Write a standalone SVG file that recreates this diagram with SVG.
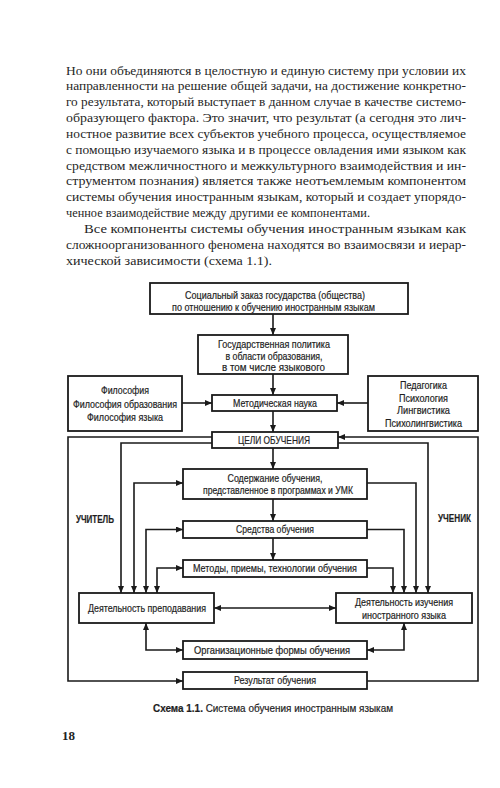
<svg xmlns="http://www.w3.org/2000/svg" width="500" height="788" viewBox="0 0 500 788">
<style>
.page{font-family:"Liberation Serif","DejaVu Serif",serif;font-size:13px;fill:#262626}
.d{font-family:"Liberation Sans","Arial",sans-serif;font-size:10.5px;fill:#1e1e1e;stroke:#1e1e1e;stroke-width:0.2;text-anchor:middle}
.b{font-weight:bold}
.box{fill:#fff;stroke:#1a1a1a;stroke-width:1.8}
.ln{fill:none;stroke:#1a1a1a;stroke-width:1.6}
</style>
<defs>
<marker id="ah" markerUnits="userSpaceOnUse" markerWidth="8" markerHeight="6" refX="7" refY="3" orient="auto-start-reverse">
<path d="M0,0 L7,3 L0,6 z" fill="#1a1a1a"/>
</marker>
</defs>
<rect width="500" height="788" fill="#fff"/>
<g id="body-text" class="page">
<text x="66" y="74.5" textLength="400" lengthAdjust="spacingAndGlyphs">Но они объединяются в целостную и единую систему при условии их</text>
<text x="66" y="90.3" textLength="400" lengthAdjust="spacingAndGlyphs">направленности на решение общей задачи, на достижение конкретно-</text>
<text x="66" y="106.2" textLength="400" lengthAdjust="spacingAndGlyphs">го результата, который выступает в данном случае в качестве системо-</text>
<text x="66" y="122" textLength="400" lengthAdjust="spacingAndGlyphs">образующего фактора. Это значит, что результат (а сегодня это лич-</text>
<text x="66" y="137.8" textLength="400" lengthAdjust="spacingAndGlyphs">ностное развитие всех субъектов учебного процесса, осуществляемое</text>
<text x="66" y="153.7" textLength="400" lengthAdjust="spacingAndGlyphs">с помощью изучаемого языка и в процессе овладения ими языком как</text>
<text x="66" y="169.5" textLength="400" lengthAdjust="spacingAndGlyphs">средством межличностного и межкультурного взаимодействия и ин-</text>
<text x="66" y="185.3" textLength="400" lengthAdjust="spacingAndGlyphs">струментом познания) является также неотъемлемым компонентом</text>
<text x="66" y="201.1" textLength="400" lengthAdjust="spacingAndGlyphs">системы обучения иностранным языкам, который и создает упорядо-</text>
<text x="66" y="217" textLength="304" lengthAdjust="spacingAndGlyphs">ченное взаимодействие между другими ее компонентами.</text>
<text x="84" y="232.8" textLength="382" lengthAdjust="spacingAndGlyphs">Все компоненты системы обучения иностранным языкам как</text>
<text x="66" y="248.6" textLength="400" lengthAdjust="spacingAndGlyphs">сложноорганизованного феномена находятся во взаимосвязи и иерар-</text>
<text x="66" y="264.5" textLength="206" lengthAdjust="spacingAndGlyphs">хической зависимости (схема 1.1).</text>
</g>
<g id="connectors" class="ln">
<path d="M273,314 V335" marker-end="url(#ah)"/>
<path d="M273,374 V395" marker-end="url(#ah)"/>
<path d="M182,403 H212" marker-end="url(#ah)"/>
<path d="M368,403 H337" marker-end="url(#ah)"/>
<path d="M273,411 V432" marker-end="url(#ah)"/>
<path d="M273,448 V469" marker-end="url(#ah)"/>
<path d="M273,499 V521" marker-end="url(#ah)"/>
<path d="M273,538 V560" marker-end="url(#ah)"/>
<path d="M212,437 H68 V681 H183" marker-end="url(#ah)"/>
<path d="M367,681 H478 V437 H338" marker-end="url(#ah)"/>
<path d="M212,443 H121 V593" marker-end="url(#ah)"/>
<path d="M338,443 H428 V593" marker-end="url(#ah)"/>
<path d="M134,593 V483 H183" marker-start="url(#ah)" marker-end="url(#ah)"/>
<path d="M367,483 H416 V593" marker-end="url(#ah)"/>
<path d="M146,593 V529.5 H183" marker-start="url(#ah)" marker-end="url(#ah)"/>
<path d="M367,529.5 H404 V593" marker-end="url(#ah)"/>
<path d="M157,593 V568 H183" marker-start="url(#ah)" marker-end="url(#ah)"/>
<path d="M367,568 H393 V593" marker-end="url(#ah)"/>
<path d="M214,608 H336" marker-start="url(#ah)" marker-end="url(#ah)"/>
<path d="M146,623 V650 H183" marker-start="url(#ah)" marker-end="url(#ah)"/>
<path d="M404,623 V650 H367" marker-start="url(#ah)" marker-end="url(#ah)"/>
</g>
<g id="social-order">
<rect class="box" x="150" y="283" width="258" height="31"/>
<text class="d" x="275" y="299" textLength="180" lengthAdjust="spacingAndGlyphs">Социальный заказ государства (общества)</text>
<text class="d" x="273.5" y="310.5" textLength="203" lengthAdjust="spacingAndGlyphs">по отношению к обучению иностранным языкам</text>
</g>
<g id="state-policy">
<rect class="box" x="198" y="335" width="150" height="39"/>
<text class="d" x="274" y="347.5" textLength="112" lengthAdjust="spacingAndGlyphs">Государственная политика</text>
<text class="d" x="274" y="359.5" textLength="97" lengthAdjust="spacingAndGlyphs">в области образования,</text>
<text class="d" x="273.5" y="371" textLength="103" lengthAdjust="spacingAndGlyphs">в том числе языкового</text>
</g>
<g id="philosophy">
<rect class="box" x="68" y="376" width="114" height="55"/>
<text class="d" x="125" y="394" textLength="48" lengthAdjust="spacingAndGlyphs">Философия</text>
<text class="d" x="125" y="407.5" textLength="104" lengthAdjust="spacingAndGlyphs">Философия образования</text>
<text class="d" x="125" y="420.5" textLength="76" lengthAdjust="spacingAndGlyphs">Философия языка</text>
</g>
<g id="sciences">
<rect class="box" x="368" y="376" width="110" height="55"/>
<text class="d" x="423.5" y="389" textLength="47" lengthAdjust="spacingAndGlyphs">Педагогика</text>
<text class="d" x="423.5" y="401.5" textLength="49" lengthAdjust="spacingAndGlyphs">Психология</text>
<text class="d" x="423.5" y="414" textLength="53" lengthAdjust="spacingAndGlyphs">Лингвистика</text>
<text class="d" x="423.5" y="426.5" textLength="77" lengthAdjust="spacingAndGlyphs">Психолингвистика</text>
</g>
<g id="methodology">
<rect class="box" x="212" y="395" width="125" height="16"/>
<text class="d" x="275" y="406.5" textLength="84" lengthAdjust="spacingAndGlyphs">Методическая наука</text>
</g>
<g id="goals">
<rect class="box" x="212" y="432" width="126" height="16"/>
<text class="d" x="274" y="443.5" textLength="72" lengthAdjust="spacingAndGlyphs">ЦЕЛИ ОБУЧЕНИЯ</text>
</g>
<g id="content">
<rect class="box" x="183" y="469" width="184" height="30"/>
<text class="d" x="275" y="481.5" textLength="95" lengthAdjust="spacingAndGlyphs">Содержание обучения,</text>
<text class="d" x="278" y="494" textLength="150" lengthAdjust="spacingAndGlyphs">представленное в программах и УМК</text>
</g>
<g id="means">
<rect class="box" x="183" y="521" width="184" height="17"/>
<text class="d" x="275" y="533" textLength="78" lengthAdjust="spacingAndGlyphs">Средства обучения</text>
</g>
<g id="methods">
<rect class="box" x="183" y="560" width="184" height="17"/>
<text class="d" x="275" y="572" textLength="164" lengthAdjust="spacingAndGlyphs">Методы, приемы, технологии обучения</text>
</g>
<g id="teaching">
<rect class="box" x="79" y="593" width="135" height="30"/>
<text class="d" x="147" y="611.5" textLength="118" lengthAdjust="spacingAndGlyphs">Деятельность преподавания</text>
</g>
<g id="learning">
<rect class="box" x="336" y="593" width="136" height="30"/>
<text class="d" x="404" y="606" textLength="98" lengthAdjust="spacingAndGlyphs">Деятельность изучения</text>
<text class="d" x="404" y="618.5" textLength="84" lengthAdjust="spacingAndGlyphs">иностранного языка</text>
</g>
<g id="org-forms">
<rect class="box" x="183" y="641" width="184" height="18"/>
<text class="d" x="272" y="653.5" textLength="156" lengthAdjust="spacingAndGlyphs">Организационные формы обучения</text>
</g>
<g id="result">
<rect class="box" x="183" y="672" width="184" height="17"/>
<text class="d" x="275" y="684" textLength="82" lengthAdjust="spacingAndGlyphs">Результат обучения</text>
</g>
<g id="teacher-label">
<text class="d b" x="95" y="522.5" textLength="38" lengthAdjust="spacingAndGlyphs">УЧИТЕЛЬ</text>
</g>
<g id="student-label">
<text class="d b" x="454.5" y="522" textLength="33" lengthAdjust="spacingAndGlyphs">УЧЕНИК</text>
</g>
<g id="caption">
<text class="d" x="273" y="712" textLength="240" lengthAdjust="spacingAndGlyphs"><tspan class="b">Схема 1.1.</tspan> Система обучения иностранным языкам</text>
</g>
<g id="page-number">
<text x="62" y="740" style="font-family:'Liberation Serif',serif;font-size:13px;font-weight:bold;fill:#222">18</text>
</g>
</svg>
